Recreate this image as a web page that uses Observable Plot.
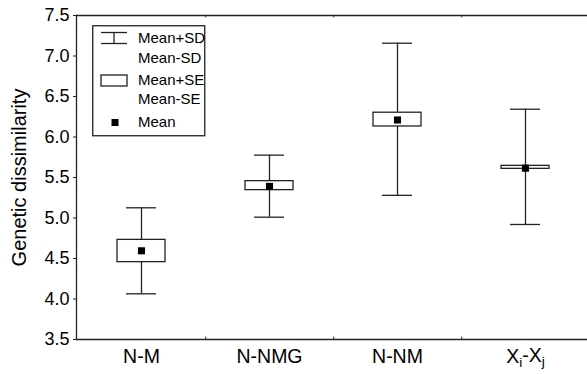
<!DOCTYPE html>
<html>
<head>
<meta charset="utf-8">
<script src="https://cdn.jsdelivr.net/npm/d3@7"></script>
<script src="https://cdn.jsdelivr.net/npm/@observablehq/plot@0.6"></script>
<style>
  html, body { margin: 0; padding: 0; background: #fff; }
  #wrap { position: relative; width: 587px; height: 374px; font-family: "Liberation Sans", Arial, sans-serif; }
  #legend { position: absolute; left: 92px; top: 25px; }
</style>
</head>
<body>
<div id="wrap"></div>
<script>
// ---- data ----
const categories = ["N-M", "N-NMG", "N-NM", "Xi-Xj"];
const means = [4.595, 5.39, 6.21, 5.615];
const seHigh = [4.73, 5.455, 6.30, 5.644];
const seLow = [4.455, 5.344, 6.13, 5.607];
const sdHigh = [5.126, 5.776, 7.158, 6.343];
const sdLow = [4.064, 5.01, 5.28, 4.92];
const yTicks = [3.5, 4.0, 4.5, 5.0, 5.5, 6.0, 6.5, 7.0, 7.5];
const yLabel = "Genetic dissimilarity";
const legendItems = ["Mean+SD", "Mean-SD", "Mean+SE", "Mean-SE", "Mean"];

const data = categories.map((c, i) => ({
  cat: c, mean: means[i], seHi: seHigh[i], seLo: seLow[i], sdHi: sdHigh[i], sdLo: sdLow[i]
}));

const ink = "#222";
const lw = 1.3;
const xRange = [76, 590];
const band = (xRange[1] - xRange[0]) / categories.length;
const yMin = yTicks[0], yMax = yTicks[yTicks.length - 1];
const tickLen = 0.03;

const chart = Plot.plot({
  width: 587,
  height: 374,
  marginLeft: 76,
  marginRight: 0,
  marginTop: 15,
  marginBottom: 35,
  style: { fontFamily: "'Liberation Sans', Arial, sans-serif", background: "#fff", color: "#000", overflow: "visible" },
  x: { type: "band", domain: categories, range: xRange, padding: 0, axis: null },
  y: { domain: [yMin, yMax], axis: null },
  marks: [
    // frame lines (top, bottom, left)
    Plot.ruleY([yMin, yMax], { stroke: ink, strokeWidth: lw }),
    Plot.frame({ anchor: "left", stroke: ink, strokeWidth: lw }),
    // small category boundary ticks
    Plot.ruleX(categories.slice(0, -1), { x: d => d, dx: band / 2, y1: yMin, y2: yMin + tickLen, stroke: ink, strokeWidth: 1 }),
    Plot.ruleX(categories.slice(0, -1), { x: d => d, dx: band / 2, y1: yMax - tickLen, y2: yMax, stroke: ink, strokeWidth: 1 }),
    // y axis
    Plot.axisY({ ticks: yTicks, tickFormat: d3.format(".1f"), tickSize: 3, tickPadding: 4, fontSize: 18, label: null, stroke: ink }),
    // x axis labels
    Plot.axisX({ tickSize: 0, tickPadding: 10, fontSize: 19.5, label: null }),
    // y label
    Plot.text([yLabel], { text: d => d, frameAnchor: "left", textAnchor: "middle", lineAnchor: "middle", dx: -56.5, rotate: -90, fontSize: 20, fill: "#000" }),
    // SD whiskers
    Plot.ruleX(data, { x: "cat", y1: "sdLo", y2: "sdHi", stroke: ink, strokeWidth: lw }),
    Plot.tickY(data, { x: "cat", y: "sdHi", insetLeft: 49, insetRight: 49, stroke: ink, strokeWidth: lw }),
    Plot.tickY(data, { x: "cat", y: "sdLo", insetLeft: 49, insetRight: 49, stroke: ink, strokeWidth: lw }),
    // SE boxes
    Plot.barY(data, { x: "cat", y1: "seLo", y2: "seHi", insetLeft: 40, insetRight: 40, fill: "#fff", stroke: ink, strokeWidth: lw }),
    // means
    Plot.dot(data, { x: "cat", y: "mean", symbol: "square", r: 4, fill: "#000", stroke: "none" })
  ]
});

// subscripts in "Xi-Xj"
d3.select(chart).selectAll("text").each(function () {
  if (this.textContent === "Xi-Xj") {
    const t = d3.select(this);
    t.text(null);
    t.append("tspan").text("X");
    t.append("tspan").attr("font-size", "0.7em").attr("dy", "0.3em").text("i");
    t.append("tspan").attr("dy", "-0.3em").text("-X");
    t.append("tspan").attr("font-size", "0.7em").attr("dy", "0.3em").text("j");
  }
});

const wrap = document.getElementById("wrap");
wrap.appendChild(chart);

// legend overlay (inside the plot area, as in the reference)
const lg = d3.create("svg").attr("id", "legend").attr("width", 115).attr("height", 112)
  .style("font-family", "'Liberation Sans', Arial, sans-serif").style("font-size", "15px");
lg.append("rect").attr("x", 0.75).attr("y", 0.75).attr("width", 112).attr("height", 110)
  .attr("fill", "#fff").attr("stroke", ink).attr("stroke-width", lw);
// SD icon
lg.append("line").attr("x1", 9).attr("x2", 35).attr("y1", 7.5).attr("y2", 7.5).attr("stroke", ink).attr("stroke-width", lw);
lg.append("line").attr("x1", 9).attr("x2", 35).attr("y1", 18.5).attr("y2", 18.5).attr("stroke", ink).attr("stroke-width", lw);
lg.append("line").attr("x1", 22).attr("x2", 22).attr("y1", 7.5).attr("y2", 18.5).attr("stroke", ink).attr("stroke-width", lw);
// SE icon
lg.append("rect").attr("x", 9).attr("y", 50).attr("width", 26).attr("height", 11).attr("fill", "#fff").attr("stroke", ink).attr("stroke-width", lw);
// mean icon
lg.append("rect").attr("x", 19.5).attr("y", 94).attr("width", 7).attr("height", 7).attr("fill", "#000");
const ys = [13, 33, 55, 74, 97];
legendItems.forEach((s, i) => {
  lg.append("text").attr("x", 46).attr("y", ys[i]).attr("dy", "0.35em").attr("fill", "#000").text(s);
});
wrap.appendChild(lg.node());
</script>
</body>
</html>
